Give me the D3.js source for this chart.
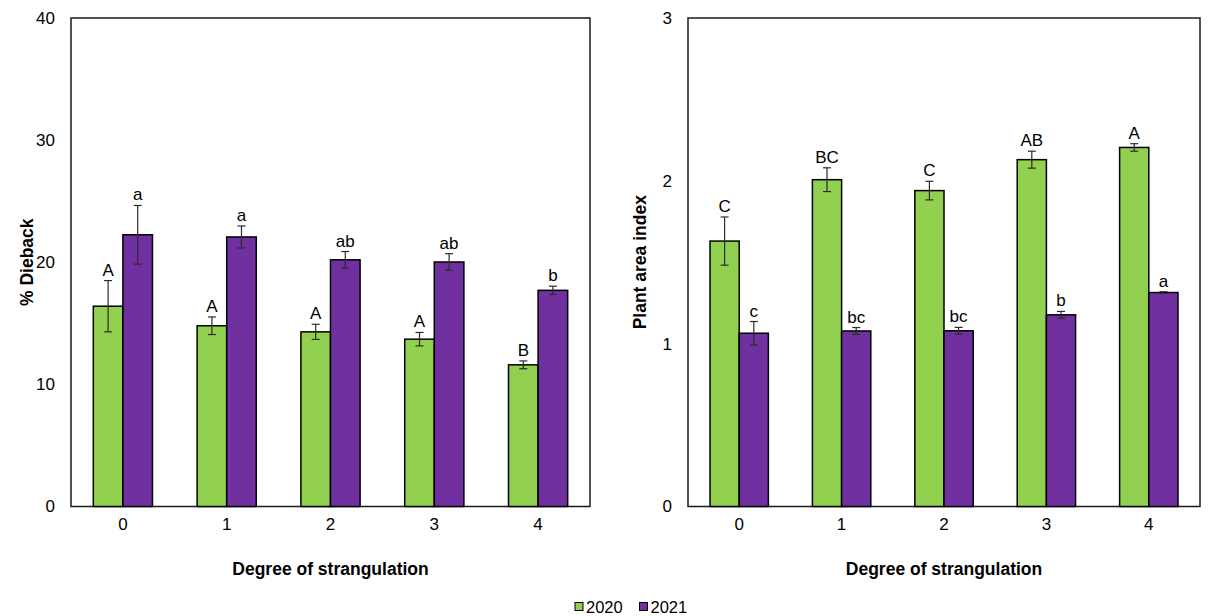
<!DOCTYPE html>
<html>
<head>
<meta charset="utf-8">
<script src="https://cdn.jsdelivr.net/npm/d3@7"></script>
<style>
  body { margin: 0; background: #fff; }
  svg { display: block; font-family: "Liberation Sans", Arial, sans-serif; }
</style>
</head>
<body>
<svg id="chart" width="1213" height="616"></svg>
<script>
// Degree of strangulation classes
const degrees = ["0", "1", "2", "3", "4"];
const years = ["2020", "2021"];

// % dieback: means, standard errors and letter groupings
const dieback2020 = [16.4, 14.8, 14.3, 13.7, 11.6];
const dieback2021 = [22.25, 22.07, 20.2, 20.02, 17.7];
const diebackSe2020 = [2.1, 0.72, 0.62, 0.55, 0.32];
const diebackSe2021 = [2.4, 0.9, 0.68, 0.68, 0.34];
const diebackLetters2020 = ["A", "A", "A", "A", "B"];
const diebackLetters2021 = ["a", "a", "ab", "ab", "b"];
const diebackTicks = [0, 10, 20, 30, 40];

// Plant area index: means, standard errors and letter groupings
const pai2020 = [1.63, 2.007, 1.94, 2.13, 2.205];
const pai2021 = [1.064, 1.078, 1.079, 1.177, 1.314];
const paiSe2020 = [0.148, 0.073, 0.057, 0.052, 0.023];
const paiSe2021 = [0.072, 0.021, 0.021, 0.021, 0.005];
const paiLetters2020 = ["C", "BC", "C", "AB", "A"];
const paiLetters2021 = ["c", "bc", "bc", "b", "a"];
const paiTicks = [0, 1, 2, 3];

const colors = { "2020": "#92D050", "2021": "#7030A0" };
const FONT = "Liberation Sans, Arial, sans-serif";
const svg = d3.select("#chart");

function panel(opts) {
  const { left, right, top, bottom, yMax, ticks, s2020, s2021, se2020, se2021, l2020, l2021, yTitle, titleX } = opts;
  const g = svg.append("g");

  const x = d3.scaleBand().domain(degrees).range([left, right]).paddingInner(0.43).paddingOuter(0.215);
  const xs = d3.scaleBand().domain(years).range([0, x.bandwidth()]);
  const y = d3.scaleLinear().domain([0, yMax]).range([bottom, top]);

  // plot frame
  g.append("rect")
    .attr("x", left).attr("y", top)
    .attr("width", right - left).attr("height", bottom - top)
    .attr("fill", "none").attr("stroke", "#1a1a1a").attr("stroke-width", 1.5);

  const rows = degrees.map((d, i) => ({
    d,
    vals: [
      { year: "2020", v: s2020[i], se: se2020[i], lab: l2020[i] },
      { year: "2021", v: s2021[i], se: se2021[i], lab: l2021[i] }
    ]
  }));

  const grp = g.selectAll("g.grp").data(rows).join("g")
    .attr("transform", r => `translate(${x(r.d)},0)`);

  grp.selectAll("rect").data(r => r.vals).join("rect")
    .attr("x", v => xs(v.year))
    .attr("y", v => y(v.v))
    .attr("width", xs.bandwidth())
    .attr("height", v => y(0) - y(v.v))
    .attr("fill", v => colors[v.year])
    .attr("stroke", "#000").attr("stroke-width", 1.5);

  // error bars (± SE)
  const eb = grp.selectAll("g.eb").data(r => r.vals).join("g")
    .attr("stroke", "#2b2b2b").attr("stroke-width", 1.2);
  eb.append("line")
    .attr("x1", v => xs(v.year) + xs.bandwidth() / 2)
    .attr("x2", v => xs(v.year) + xs.bandwidth() / 2)
    .attr("y1", v => y(v.v + v.se)).attr("y2", v => y(v.v - v.se));
  [1, -1].forEach(sg => {
    eb.append("line")
      .attr("x1", v => xs(v.year) + xs.bandwidth() / 2 - 4)
      .attr("x2", v => xs(v.year) + xs.bandwidth() / 2 + 4)
      .attr("y1", v => y(v.v + sg * v.se)).attr("y2", v => y(v.v + sg * v.se));
  });

  // significance letters
  grp.selectAll("text.lab").data(r => r.vals).join("text")
    .attr("x", v => xs(v.year) + xs.bandwidth() / 2)
    .attr("y", v => y(v.v + v.se) - 5)
    .attr("text-anchor", "middle")
    .attr("font-size", 17).attr("fill", "#000")
    .text(v => v.lab);

  // y axis
  const ya = g.append("g").attr("transform", `translate(${left},0)`)
    .call(d3.axisLeft(y).tickValues(ticks).tickSize(0).tickPadding(16).tickFormat(d3.format("d")));
  ya.select(".domain").remove();
  ya.selectAll("text").attr("font-size", 17).attr("fill", "#000").attr("font-family", FONT);

  // x axis
  const xa = g.append("g").attr("transform", `translate(0,${bottom})`)
    .call(d3.axisBottom(x).tickSize(0).tickPadding(11));
  xa.select(".domain").remove();
  xa.selectAll("text").attr("font-size", 17).attr("fill", "#000").attr("font-family", FONT);

  g.append("text")
    .attr("x", (left + right) / 2).attr("y", 575)
    .attr("text-anchor", "middle").attr("font-size", 17.5).attr("font-weight", "bold")
    .text("Degree of strangulation");

  g.append("text")
    .attr("transform", `translate(${titleX},${(top + bottom) / 2}) rotate(-90)`)
    .attr("text-anchor", "middle").attr("font-size", 17.5).attr("font-weight", "bold")
    .text(yTitle);
}

panel({
  left: 71, right: 590, top: 18, bottom: 506.5, yMax: 40, ticks: diebackTicks,
  s2020: dieback2020, s2021: dieback2021, se2020: diebackSe2020, se2021: diebackSe2021,
  l2020: diebackLetters2020, l2021: diebackLetters2021, yTitle: "% Dieback", titleX: 33
});

panel({
  left: 688, right: 1200, top: 18, bottom: 506.5, yMax: 3, ticks: paiTicks,
  s2020: pai2020, s2021: pai2021, se2020: paiSe2020, se2021: paiSe2021,
  l2020: paiLetters2020, l2021: paiLetters2021, yTitle: "Plant area index", titleX: 646
});

// legend
const legend = svg.append("g");
const legendX = [575, 639.5];
years.forEach((yr, i) => {
  legend.append("rect")
    .attr("x", legendX[i]).attr("y", 602.5)
    .attr("width", 8).attr("height", 8)
    .attr("fill", colors[yr]).attr("stroke", "#000").attr("stroke-width", 1);
  legend.append("text")
    .attr("x", legendX[i] + 11).attr("y", 613)
    .attr("font-size", 16.5).attr("fill", "#000")
    .text(yr);
});
</script>
</body>
</html>
